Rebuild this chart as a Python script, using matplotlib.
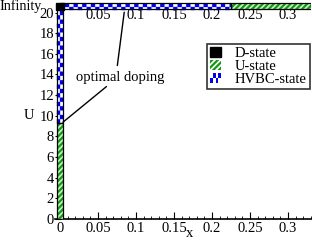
import matplotlib
matplotlib.use("Agg")
import matplotlib.pyplot as plt
from matplotlib.patches import Rectangle, Patch
from matplotlib.legend_handler import HandlerPatch
import numpy as np

plt.rcParams['font.family'] = ['Liberation Serif', 'DejaVu Serif']
plt.rcParams['hatch.linewidth'] = 1.6

# data
x_ticks = [0, 0.05, 0.1, 0.15, 0.2, 0.25, 0.3]
x_tick_labels = ['0', '0.05', '0.1', '0.15', '0.2', '0.25', '0.3']
top_labels = ['0.05', '0.1', '0.15', '0.2', '0.25', '0.3']
u_ticks = [0, 2, 4, 6, 8, 10, 12, 14, 16, 18, 20]
u_infinity = 20.6          # level used for U = Infinity
u_transition = 9.3         # U-state -> HVBC-state boundary at x = 0
x_transition = 0.225       # HVBC -> U-state boundary at U = Infinity
x_max = 0.33
opt_doping_x = 0.085

fig = plt.figure(figsize=(3.12, 2.41), dpi=100)
ax = fig.add_axes([0.1776, 0.0913, 0.8186, 0.906])
ax.set_xlim(-0.006, x_max)
ax.set_ylim(0, 21.15)

band_w = 0.008   # width of vertical band (x units)
band_h = 0.55    # height of horizontal band (U units)
green = '#119911'
blue = '#0000ee'
dash_a = (0, (1.3, 1.3))
dash_b = (1.3, (1.3, 1.3))

def green_band(x0, y0, w, h):
    ax.add_patch(Rectangle((x0, y0), w, h, facecolor='#ccf0cc', edgecolor=green,
                           hatch='//////', lw=0, zorder=3))
    ax.add_patch(Rectangle((x0, y0), w, h, facecolor='none', edgecolor='black',
                           lw=0.9, zorder=4))

def checker_band(x0, y0, w, h, vertical):
    ax.add_patch(Rectangle((x0, y0), w, h, facecolor='white', edgecolor='none', zorder=3))
    if vertical:
        xs1 = x0 + w * 0.25
        xs2 = x0 + w * 0.75
        ax.plot([xs1, xs1], [y0, y0 + h], color=blue, lw=2.4, linestyle=dash_a, zorder=3.5, dash_capstyle='butt')
        ax.plot([xs2, xs2], [y0, y0 + h], color=blue, lw=2.4, linestyle=dash_b, zorder=3.5, dash_capstyle='butt')
    else:
        ys1 = y0 + h * 0.25
        ys2 = y0 + h * 0.75
        ax.plot([x0, x0 + w], [ys1, ys1], color=blue, lw=2.4, linestyle=dash_a, zorder=3.5, dash_capstyle='butt')
        ax.plot([x0, x0 + w], [ys2, ys2], color=blue, lw=2.4, linestyle=dash_b, zorder=3.5, dash_capstyle='butt')
    ax.add_patch(Rectangle((x0, y0), w, h, facecolor='none', edgecolor='black',
                           lw=0.9, zorder=4))

# vertical band at x = 0
green_band(-band_w / 2, 0, band_w, u_transition)
checker_band(-band_w / 2, u_transition, band_w, u_infinity - u_transition, True)
# horizontal band at U = Infinity
checker_band(0, u_infinity - band_h / 2, x_transition, band_h, False)
green_band(x_transition, u_infinity - band_h / 2, x_max - x_transition, band_h)
# D-state point
ax.add_patch(Rectangle((-band_w / 2 - 0.001, u_infinity - 0.35), band_w + 0.002, 0.7,
                       facecolor='black', edgecolor='black', zorder=5))

# axes style
for s in ['top', 'right', 'left']:
    ax.spines[s].set_visible(False)
ax.spines['bottom'].set_linewidth(1.2)
ax.set_xticks(x_ticks)
ax.set_xticklabels(x_tick_labels, fontsize=10.5)
ax.set_xticks(np.arange(0, 0.331, 0.01), minor=True)
ax.tick_params(axis='x', direction='in', length=5, width=0.8, pad=2)
ax.tick_params(axis='x', which='minor', direction='in', length=2.5, width=0.6)
ax.set_yticks(u_ticks)
ax.set_yticklabels([str(u) for u in u_ticks], fontsize=10.5)
ax.tick_params(axis='y', direction='in', length=4, pad=1)

# top labels
for xv, lab in zip(x_ticks[1:], top_labels):
    ax.text(xv, 19.7, lab, ha='center', va='center', fontsize=10.5)

ax.text(-0.0235, u_infinity + 0.05, 'Infinity', ha='right', va='center', fontsize=10.2,
        transform=ax.transData, clip_on=False)
ax.set_ylabel('U', rotation=0, fontsize=10.5, labelpad=5, va='center')
ax.yaxis.set_label_coords(-0.105, 10 / 21.15)
ax.set_xlabel('x', fontsize=10.5, va='center')
ax.xaxis.set_label_coords(0.527, -0.066)

# annotation
ax.text(0.079, 13.75, 'optimal doping', ha='center', va='center', fontsize=10.5)
ax.annotate('', xy=(opt_doping_x, u_infinity - 0.3), xytext=(0.075, 14.6),
            arrowprops=dict(arrowstyle='-', color='black', lw=1.0))
ax.annotate('', xy=(0.001, u_transition - 0.1), xytext=(0.064, 13.0),
            arrowprops=dict(arrowstyle='-', color='black', lw=1.0))

# legend
class HandlerChecker(HandlerPatch):
    def create_artists(self, legend, orig_handle, xdescent, ydescent, width, height, fontsize, trans):
        arts = []
        w = width * 0.6
        r = Rectangle((-xdescent, -ydescent), w, height, facecolor='white', edgecolor='none', transform=trans)
        arts.append(r)
        n = 4
        for i in range(n):
            for j in range(2):
                if (i + j) % 2 == 0:
                    arts.append(Rectangle((-xdescent + i * w / n, -ydescent + j * height / 2), w / n, height / 2,
                                          facecolor=blue, edgecolor='none', transform=trans))
        return arts

class HandlerSmall(HandlerPatch):
    def create_artists(self, legend, orig_handle, xdescent, ydescent, width, height, fontsize, trans):
        r = Rectangle((-xdescent, -ydescent), width * 0.6, height, transform=trans)
        self.update_prop(r, orig_handle, legend)
        r.set_transform(trans)
        return [r]

h_d = Patch(facecolor='black', edgecolor='black', label='D-state')
h_u = Patch(facecolor='white', edgecolor=green, hatch='//////', lw=0, label='U-state')
h_h = Patch(facecolor='white', edgecolor=blue, label='HVBC-state')
leg = ax.legend(handles=[h_d, h_u, h_h], loc='upper right', bbox_to_anchor=(0.995, 0.8),
                fontsize=10.5, frameon=True, fancybox=False, edgecolor='black',
                handlelength=1.3, handleheight=0.6, handletextpad=0.4, borderpad=0.2,
                labelspacing=0.0, borderaxespad=0.0,
                handler_map={h_h: HandlerChecker(), h_d: HandlerSmall(), h_u: HandlerSmall()})
leg.get_frame().set_linewidth(1.2)

fig.savefig('out.png', dpi=100)
